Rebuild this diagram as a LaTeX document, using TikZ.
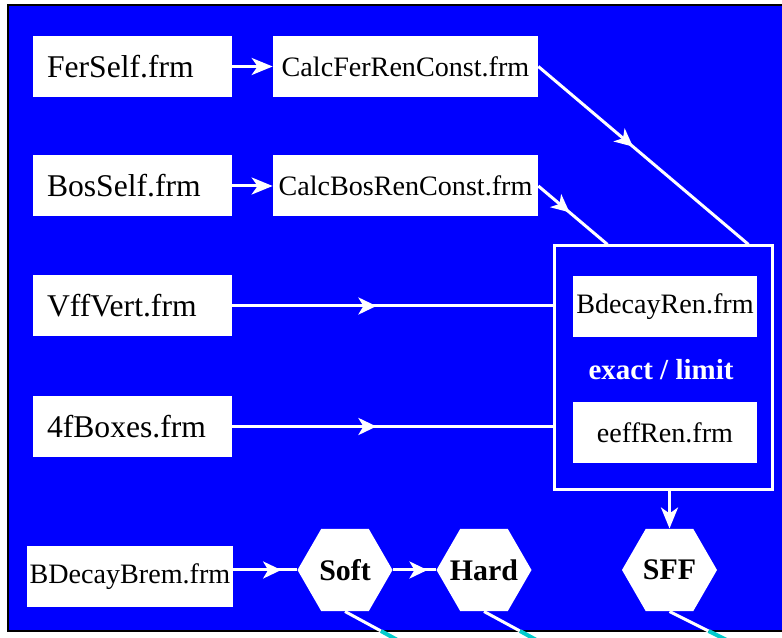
\documentclass[tikz,border=0pt]{standalone}
\usepackage{fontspec}
\setmainfont{Liberation Serif}
\usetikzlibrary{arrows.meta,shapes.geometric,decorations.markings}

\definecolor{panel}{RGB}{0,0,255}
\definecolor{wirecyan}{RGB}{0,205,205}

\tikzset{
	frmbox/.style={fill=white, inner sep=0pt, minimum height=1.22cm, font=\fontsize{16}{18}\selectfont},
	srcbox/.style={frmbox, inner xsep=0.28cm, text width=3.42cm, align=left, font=\fontsize{18}{20}\selectfont},
	stagehex/.style={regular polygon, regular polygon sides=6, fill=white, inner sep=-0.3cm, minimum size=1.9cm, font=\fontsize{17}{19}\selectfont\bfseries},
	wire/.style={white, line width=0.06cm},
	cyanwire/.style={wirecyan, line width=0.08cm},
	midarrow/.style={postaction={decorate}, decoration={markings, mark=at position #1 with {\arrow{Stealth[length=0.36cm,width=0.34cm,inset=0.1cm]}}}},
	endarrow/.style={-{Stealth[length=0.42cm,width=0.34cm,inset=0.12cm]}}
}

\begin{document}
\begin{tikzpicture}

	\useasboundingbox (0,0) rectangle (15.64,12.76);
	\fill[white] (0,0) rectangle (15.64,12.76);
	\filldraw[fill=panel, draw=black, line width=0.03cm] (0.16,0.14) rectangle (15.8,12.66);

	% form files
	\node[srcbox] (ferself) at (2.65,11.43) {FerSelf.frm};
	\node[frmbox, minimum width=5.3cm] (calcfer) at (8.11,11.43) {CalcFerRenConst.frm};
	\node[srcbox] (bosself) at (2.65,9.04) {BosSelf.frm};
	\node[frmbox, minimum width=5.3cm] (calcbos) at (8.11,9.04) {CalcBosRenConst.frm};
	\node[srcbox] (vffvert) at (2.65,6.64) {VffVert.frm};
	\node[srcbox] (fourf) at (2.65,4.23) {4fBoxes.frm};

	% renormalisation block
	\node[draw=white, line width=0.06cm, minimum width=4.36cm, minimum height=4.88cm] (ren) at (13.26,5.4) {};
	\node[frmbox, minimum width=3.68cm] (bdecayren) at (13.3,6.63) {BdecayRen.frm};
	\node[white, font=\fontsize{16.5}{18}\selectfont\bfseries] (mode) at (13.22,5.36) {exact / limit};
	\node[frmbox, minimum width=3.68cm] (eeffren) at (13.3,4.11) {eeffRen.frm};

	% bremsstrahlung row
	\node[frmbox, minimum width=4.12cm] (brem) at (2.6,1.23) {BDecayBrem.frm};
	\node[stagehex] (soft) at (6.9,1.36) {Soft};
	\node[stagehex] (hard) at (9.68,1.36) {Hard};
	\node[stagehex] (sff) at (13.39,1.36) {SFF};

	\coordinate (ferin) at ([xshift=-0.5cm]ren.north east);
	\coordinate (bosin) at ([xshift=1.1cm]ren.north west);

	\draw[wire, endarrow] (ferself) -- (calcfer);
	\draw[wire, endarrow] (bosself) -- (calcbos);
	\draw[wire, midarrow=0.45] (calcfer.east) -- (ferin);
	\draw[wire, midarrow=0.45] (calcbos.east) -- (bosin);
	\draw[wire, midarrow=0.45] (vffvert.east) -- (vffvert.east -| ren.west);
	\draw[wire, midarrow=0.45] (fourf.east) -- (fourf.east -| ren.west);
	\draw[wire, endarrow] (sff.north |- ren.south) -- (sff.north);
	\draw[wire, midarrow=0.75] (brem.east |- soft.west) -- (soft.west);
	\draw[wire, midarrow=0.8] (soft.east) -- (hard.west);

	% links leaving the panel
	\draw[wire] (soft.south) -- ++(0.72,-0.39) coordinate (softcut);
	\draw[cyanwire] (softcut) -- ++(0.6,-0.33);
	\draw[wire] (hard.south) -- ++(0.72,-0.39) coordinate (hardcut);
	\draw[cyanwire] (hardcut) -- ++(0.6,-0.33);
	\draw[wire] (sff.south) -- ++(0.78,-0.39) coordinate (sffcut);
	\draw[cyanwire] (sffcut) -- ++(0.66,-0.33);

\end{tikzpicture}
\end{document}
